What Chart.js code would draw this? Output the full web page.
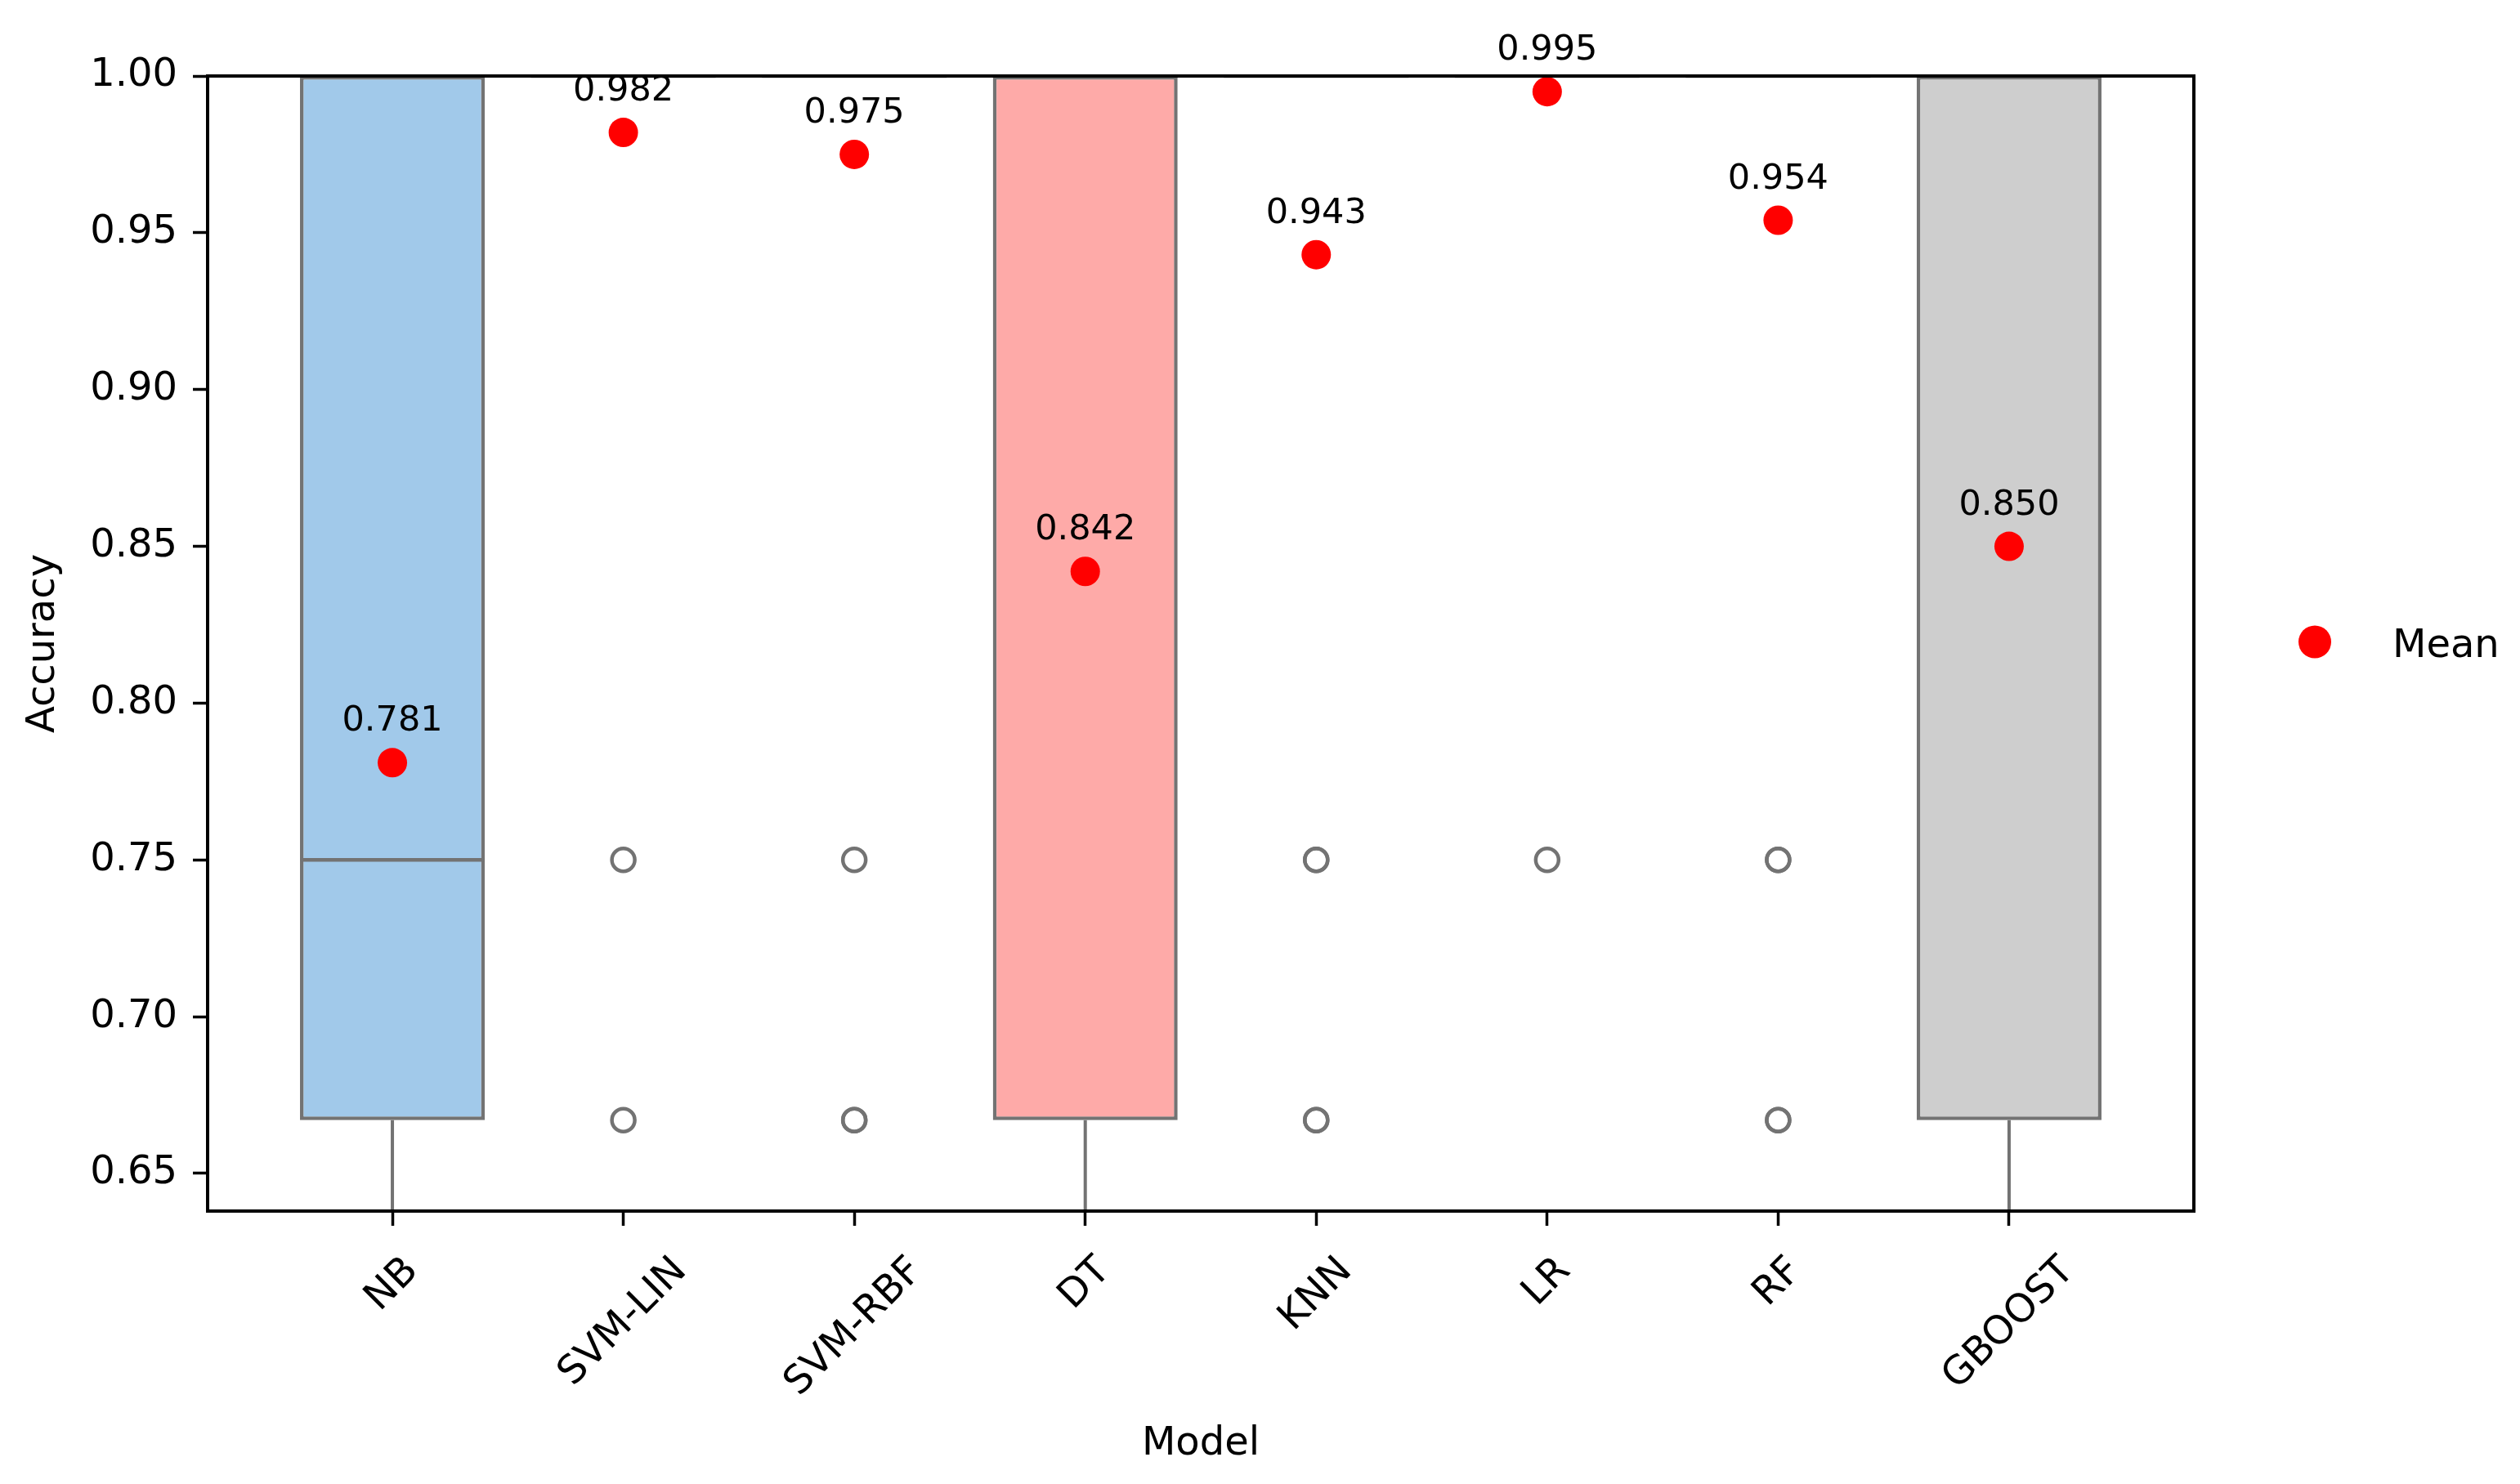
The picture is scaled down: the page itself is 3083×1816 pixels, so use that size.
<!DOCTYPE html>
<html lang="en">
<head>
    <meta charset="UTF-8">
    <title>Accuracy by Model</title>
    <script src="https://cdn.jsdelivr.net/npm/chart.js"></script>
    <style>
        body { margin: 0; background: #fff; }
    </style>
</head>
<body>
    <canvas id="boxChart" width="3083" height="1816"></canvas>
    <script>
        // values
        const models = ['NB', 'SVM-LIN', 'SVM-RBF', 'DT', 'KNN', 'LR', 'RF', 'GBOOST'];
        const q1 = [0.667, 1.0, 1.0, 0.667, 1.0, 1.0, 1.0, 0.667];
        const q3 = [1.0, 1.0, 1.0, 1.0, 1.0, 1.0, 1.0, 1.0];
        const medians = [0.75, 1.0, 1.0, 1.0, 1.0, 1.0, 1.0, 1.0];
        const whiskerLow = [0.5, 1.0, 1.0, 0.5, 1.0, 1.0, 1.0, 0.5];
        const whiskerHigh = [1.0, 1.0, 1.0, 1.0, 1.0, 1.0, 1.0, 1.0];
        const means = [0.781, 0.982, 0.975, 0.842, 0.943, 0.995, 0.954, 0.850];
        const outliers = [
            [],
            [0.75, 0.667],
            [0.75, 0.667, 0.667],
            [],
            [0.75, 0.75, 0.667, 0.667],
            [0.75],
            [0.75, 0.75, 0.667, 0.667],
            []
        ];
        const yTickValues = [0.65, 0.70, 0.75, 0.80, 0.85, 0.90, 0.95, 1.00];

        const boxFill = ['#a1c9ea', '#a1c9ea', '#a1c9ea', '#feaaa8', '#a1c9ea', '#a1c9ea', '#a1c9ea', '#cecece'];
        const lineGrey = '#737373';
        const FONT = 'DejaVu Sans';

        Chart.defaults.font.family = FONT;
        Chart.defaults.color = '#000';

        // datasets built from the arrays above
        const boxData = models.map((m, i) => ({ x: i, y: [q1[i], q3[i]] }));

        const medianData = [];
        models.forEach((m, i) => {
            medianData.push({ x: i - 0.4, y: medians[i] }, { x: i + 0.4, y: medians[i] }, { x: i + 0.5, y: null });
        });

        const whiskerData = [];
        models.forEach((m, i) => {
            whiskerData.push({ x: i, y: q1[i] }, { x: i, y: whiskerLow[i] }, { x: i, y: null });
            whiskerData.push({ x: i, y: q3[i] }, { x: i, y: whiskerHigh[i] }, { x: i, y: null });
        });

        const outlierData = [];
        outliers.forEach((vals, i) => vals.forEach(v => outlierData.push({ x: i, y: v })));

        const meanData = means.map((v, i) => ({ x: i, y: v }));

        const overlay = {
            id: 'overlay',
            afterDatasetsDraw(chart) {
                const { ctx, chartArea: a } = chart;
                ctx.save();
                // axes frame (all four spines)
                ctx.strokeStyle = '#000';
                ctx.lineWidth = 4;
                ctx.strokeRect(a.left, a.top, a.right - a.left, a.bottom - a.top);

                // mean value labels
                const idx = chart.data.datasets.findIndex(d => d.label === 'Mean');
                const meta = chart.getDatasetMeta(idx);
                ctx.fillStyle = '#000';
                ctx.font = '43px "' + FONT + '"';
                ctx.textAlign = 'center';
                ctx.textBaseline = 'alphabetic';
                meta.data.forEach((pt, i) => {
                    ctx.fillText(means[i].toFixed(3), pt.x, pt.y - 39);
                });
                ctx.restore();
            },
            afterDraw(chart) {
                const { ctx, chartArea: a, scales: { x } } = chart;
                ctx.save();
                // rotated category labels, centred under their ticks
                ctx.fillStyle = '#000';
                ctx.font = '48px "' + FONT + '"';
                ctx.textAlign = 'center';
                ctx.textBaseline = 'middle';
                models.forEach((m, i) => {
                    const w = ctx.measureText(m).width;
                    const half = (w + 45) * Math.SQRT1_2 / 2;
                    const cx = x.getPixelForValue(i);
                    const cy = a.bottom + 50 + half;
                    ctx.save();
                    ctx.translate(cx, cy);
                    ctx.rotate(-Math.PI / 4);
                    ctx.fillText(m, 0, 0);
                    ctx.restore();
                });

                // legend
                const ly = (a.top + a.bottom) / 2 - 2;
                ctx.fillStyle = '#ff0000';
                ctx.beginPath();
                ctx.arc(a.right + 148, ly, 20, 0, Math.PI * 2);
                ctx.fill();
                ctx.fillStyle = '#000';
                ctx.textAlign = 'left';
                ctx.textBaseline = 'alphabetic';
                ctx.fillText('Mean', a.right + 243, ly + 18);
                ctx.restore();
            }
        };

        new Chart(document.getElementById('boxChart'), {
            type: 'bar',
            data: {
                datasets: [
                    {
                        label: 'Mean',
                        type: 'line',
                        data: meanData,
                        showLine: false,
                        pointStyle: 'circle',
                        pointRadius: 18,
                        pointBorderWidth: 0,
                        pointBackgroundColor: '#ff0000',
                        order: 0
                    },
                    {
                        label: 'Outliers',
                        type: 'line',
                        data: outlierData,
                        showLine: false,
                        pointStyle: 'circle',
                        pointRadius: 14,
                        pointBorderWidth: 4.5,
                        pointBorderColor: lineGrey,
                        pointBackgroundColor: 'rgba(0,0,0,0)',
                        order: 1
                    },
                    {
                        label: 'Median',
                        type: 'line',
                        data: medianData,
                        borderColor: lineGrey,
                        borderWidth: 4.5,
                        pointRadius: 0,
                        spanGaps: false,
                        order: 2
                    },
                    {
                        label: 'Whiskers',
                        type: 'line',
                        data: whiskerData,
                        borderColor: lineGrey,
                        borderWidth: 4,
                        pointRadius: 0,
                        spanGaps: false,
                        order: 3
                    },
                    {
                        label: 'Box',
                        data: boxData,
                        backgroundColor: boxFill,
                        borderColor: lineGrey,
                        borderWidth: 4.5,
                        borderSkipped: false,
                        barPercentage: 0.8,
                        categoryPercentage: 1.0,
                        order: 4
                    }
                ]
            },
            options: {
                responsive: false,
                animation: false,
                devicePixelRatio: 1,
                layout: { padding: { top: 93, right: 399, bottom: 0, left: 0 } },
                plugins: {
                    legend: { display: false },
                    tooltip: { enabled: false }
                },
                scales: {
                    x: {
                        type: 'linear',
                        min: -0.8,
                        max: 7.8,
                        offset: false,
                        afterBuildTicks: s => { s.ticks = models.map((m, i) => ({ value: i })); },
                        afterFit: s => { s.height = 334; },
                        ticks: { display: false },
                        grid: {
                            display: true,
                            drawOnChartArea: false,
                            offset: false,
                            tickLength: 18,
                            tickWidth: 3.5,
                            tickColor: '#000'
                        },
                        border: { display: false },
                        title: {
                            display: true,
                            text: 'Model',
                            font: { size: 48 },
                            padding: { top: 234, bottom: 20 }
                        }
                    },
                    y: {
                        min: 0.638,
                        max: 1.0,
                        beginAtZero: false,
                        afterBuildTicks: s => { s.ticks = yTickValues.map(v => ({ value: v })); },
                        afterFit: s => { s.width = 254; },
                        ticks: {
                            font: { size: 48 },
                            padding: 19,
                            callback: v => Number(v).toFixed(2)
                        },
                        grid: {
                            display: true,
                            drawOnChartArea: false,
                            tickLength: 18,
                            tickWidth: 3.5,
                            tickColor: '#000'
                        },
                        border: { display: false },
                        title: {
                            display: true,
                            text: 'Accuracy',
                            font: { size: 48 },
                            padding: { top: 25, bottom: 28 }
                        }
                    }
                }
            },
            plugins: [overlay]
        });
    </script>
</body>
</html>
